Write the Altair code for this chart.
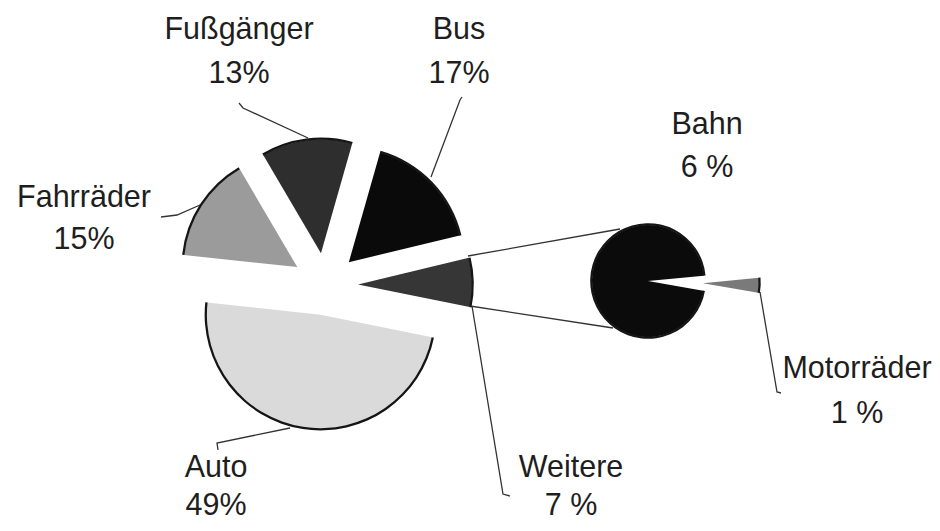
import altair as alt
import pandas as pd

# ---------------- data ----------------
main_categories = ["Weitere", "Auto", "Fahrräder", "Fußgänger", "Bus"]
main_values = [7, 49, 15, 13, 17]
main_pct_text = ["7 %", "49%", "15%", "13%", "17%"]

# breakdown of "Weitere" (second pie); sizes as drawn in the picture
sub_categories = ["Motorräder", "Bahn"]
sub_values = [0.3, 6.7]
sub_pct_text = ["1 %", "6 %"]

# ---------------- style / layout ----------------
W, H = 924, 515
xs = alt.Scale(domain=[8, 8 + W], zero=False, nice=False)
ys = alt.Scale(domain=[8 + H, 8], zero=False, nice=False)

main_center = (325, 285)
main_start_deg = 76.5
main_radius = 114
main_explode = {"Weitere": 33, "Auto": 30, "Fahrräder": 33, "Fußgänger": 32, "Bus": 33}
main_colors = {"Weitere": "#363636", "Auto": "#dadada", "Fahrräder": "#9b9b9b",
               "Fußgänger": "#2e2e2e", "Bus": "#0a0a0a"}

sub_center = (648, 281)
sub_start_deg = 84.5
sub_radius = 56
sub_explode = {"Motorräder": 55, "Bahn": 0}
sub_colors = {"Motorräder": "#7a7a7a", "Bahn": "#0b0b0b"}

# label anchor: centre x, baseline of name, baseline of percentage
label_pos = {
    "Fußgänger": (239, 39, 83),
    "Bus": (459, 39, 83),
    "Fahrräder": (84, 207, 249),
    "Bahn": (707, 134, 177),
    "Auto": (216, 477, 515),
    "Weitere": (571, 477, 515),
    "Motorräder": (857, 378, 423),
}
leader_pts = {
    "Fußgänger": [(239, 103), (243, 108), (308, 138)],
    "Bus": [(462, 97), (460, 100), (431, 177)],
    "Fahrräder": [(161, 217), (177, 215), (200, 205)],
    "Auto": [(218, 450), (217, 443), (290, 428)],
    "Weitere": [(472, 306), (503, 494), (510, 496)],
    "Motorräder": [(760, 292), (777, 392), (781, 393)],
    "conn_top": [(468, 256), (620, 229)],
    "conn_bottom": [(470, 306), (613, 328)],
}

FONT = "Liberation Sans"


def pie(cats, vals, explode, colors, center, start_deg, radius):
    df = pd.DataFrame({
        "cat": cats,
        "value": vals,
        "order": list(range(len(cats))),
        "explode": [explode[c] for c in cats],
        "fill": [colors[c] for c in cats],
    })
    cx, cy = center
    base = (
        alt.Chart(df)
        .transform_window(cum="sum(value)", sort=[alt.SortField("order")], frame=[None, 0])
        .transform_joinaggregate(total="sum(value)")
        .transform_calculate(t0=f"{start_deg}*PI/180 + 2*PI*(datum.cum - datum.value)/datum.total")
        .transform_calculate(t1=f"{start_deg}*PI/180 + 2*PI*datum.cum/datum.total")
        .transform_calculate(mid="(datum.t0 + datum.t1)/2")
        .transform_calculate(px=f"{cx} + datum.explode*sin(datum.mid)")
        .transform_calculate(py=f"{cy} - datum.explode*cos(datum.mid)")
    )
    enc = dict(
        x=alt.X("px:Q", scale=xs, axis=None),
        y=alt.Y("py:Q", scale=ys, axis=None),
        theta=alt.Theta("t0:Q", scale=None),
        theta2="t1:Q",
    )
    fill = base.mark_arc(outerRadius=radius).encode(
        color=alt.Color("fill:N", scale=None, legend=None),
        **enc,
    )
    ring = base.mark_arc(innerRadius=radius - 0.5, outerRadius=radius + 1.8, color="#151515").encode(**enc)
    return fill, ring


main_fill, main_ring = pie(main_categories, main_values, main_explode, main_colors,
                           main_center, main_start_deg, main_radius)
sub_fill, sub_ring = pie(sub_categories, sub_values, sub_explode, sub_colors,
                         sub_center, sub_start_deg, sub_radius)

# labels
rows = []
for cat, pct in list(zip(main_categories, main_pct_text)) + list(zip(sub_categories, sub_pct_text)):
    x, y1, y2 = label_pos[cat]
    rows.append({"text": cat, "x": x, "y": y1})
    rows.append({"text": pct, "x": x, "y": y2})
labels_df = pd.DataFrame(rows)

text = alt.Chart(labels_df).mark_text(
    font=FONT, fontSize=30.5, align="center", baseline="alphabetic", color="#1e1e1e"
).encode(
    x=alt.X("x:Q", scale=xs, axis=None),
    y=alt.Y("y:Q", scale=ys, axis=None),
    text="text:N",
)

lrows = []
for g, pts in leader_pts.items():
    for i, (x, y) in enumerate(pts):
        lrows.append({"grp": g, "seq": i, "x": x, "y": y})
lines_df = pd.DataFrame(lrows)

lines = alt.Chart(lines_df).mark_line(color="#333333", strokeWidth=1.3).encode(
    x=alt.X("x:Q", scale=xs, axis=None),
    y=alt.Y("y:Q", scale=ys, axis=None),
    detail="grp:N",
    order=alt.Order("seq:Q"),
)

chart = (
    alt.layer(lines, main_fill, main_ring, sub_fill, sub_ring, text)
    .properties(width=W, height=H, padding=0, background="white",
                autosize=alt.AutoSizeParams(type="none"))
    .configure_view(stroke=None)
)

chart.save("out.html", embed_options={"renderer": "svg", "actions": False})
